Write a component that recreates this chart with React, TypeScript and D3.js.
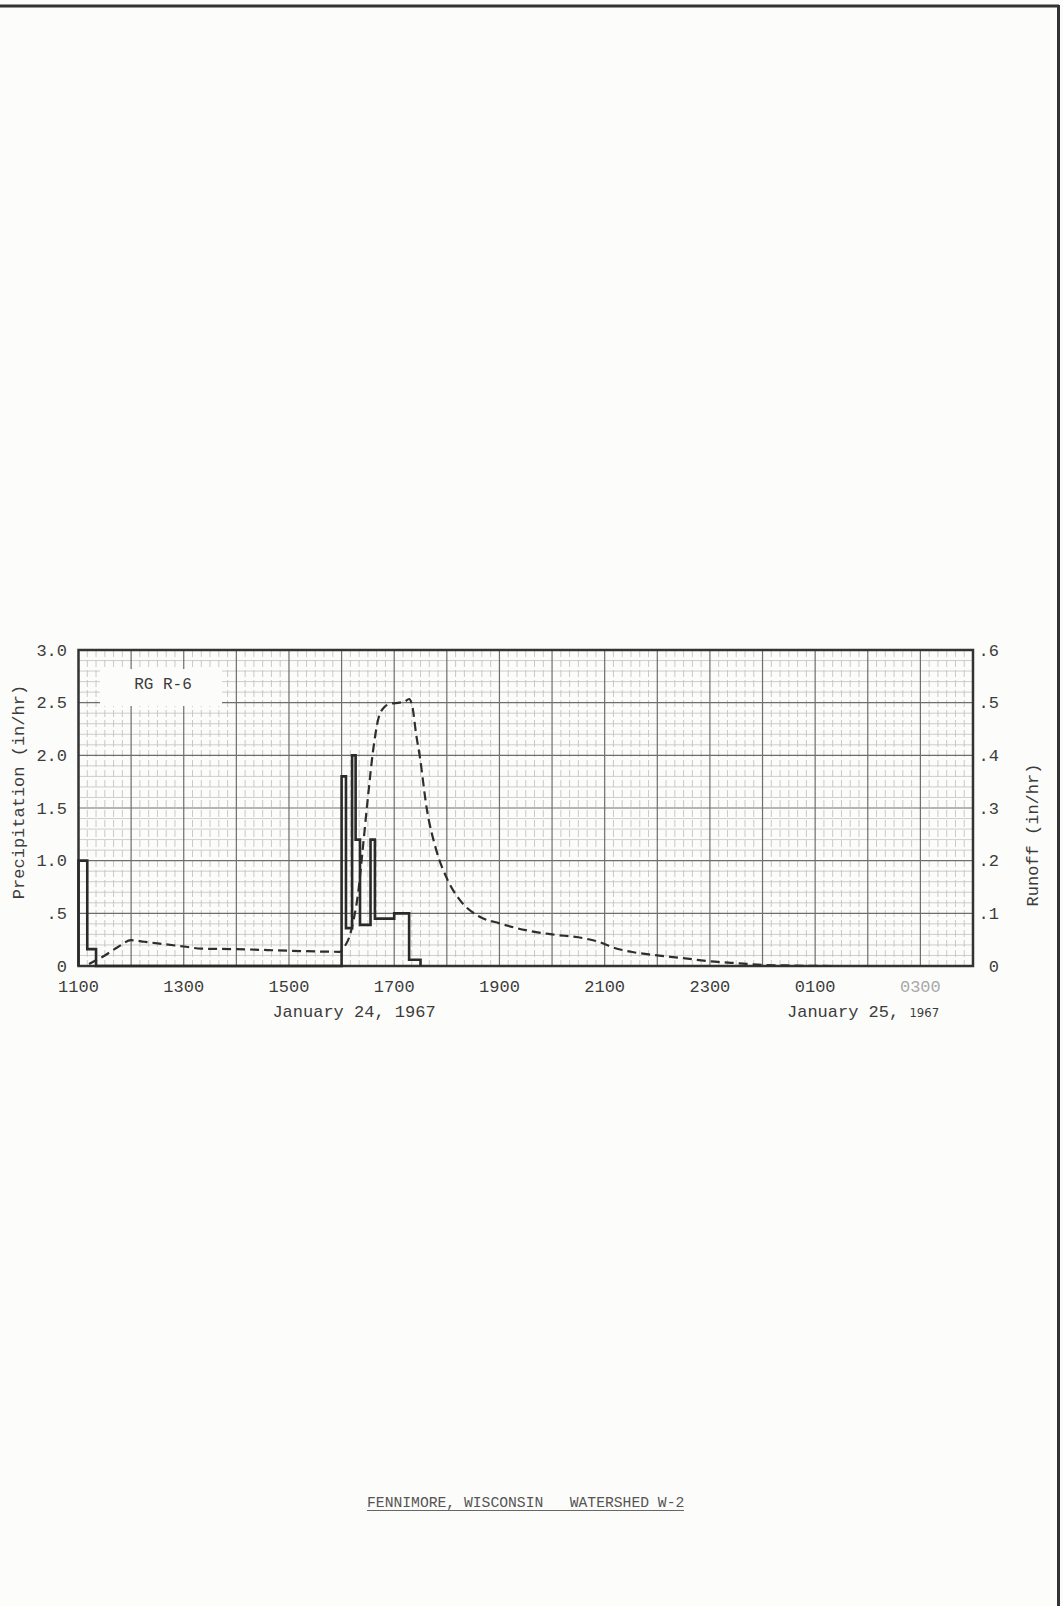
import React from 'react';
import * as d3 from 'd3';

// time axis: minutes after 1100, January 24 1967
const hourLabels = ['1100', '1300', '1500', '1700', '1900', '2100', '2300', '0100', '0300'];
const hourLabelAt = [0, 2, 4, 6, 8, 10, 12, 14, 16];

const precipTickLabels = ['0', '.5', '1.0', '1.5', '2.0', '2.5', '3.0'];
const precipTickValues = [0, 0.5, 1, 1.5, 2, 2.5, 3];
const runoffTickLabels = ['0', '.1', '.2', '.3', '.4', '.5', '.6'];
const runoffTickValues = [0, 0.1, 0.2, 0.3, 0.4, 0.5, 0.6];

// precipitation intensity (step, value holds until next time)
const precipMinutes = [0, 0, 10, 20, 300, 305, 312, 316, 321, 333, 338, 360, 377, 390];
const precipRate = [0, 1.0, 0.16, 0, 1.8, 0.36, 2.0, 1.2, 0.39, 1.2, 0.45, 0.5, 0.06, 0];

// runoff rate
const runoffMinutes = [12, 30, 45, 60, 75, 90, 120, 140, 180, 240, 298, 303, 309, 314, 319, 324, 330, 336, 342, 349, 356, 366, 372, 377, 381, 385, 389, 397, 408, 421, 435, 457, 480, 510, 540, 575, 595, 610, 630, 655, 689, 720, 754, 781, 807, 860];
const runoffRate = [0.004, 0.02, 0.036, 0.049, 0.046, 0.043, 0.037, 0.033, 0.032, 0.029, 0.027, 0.036, 0.056, 0.09, 0.14, 0.22, 0.32, 0.41, 0.47, 0.492, 0.498, 0.5, 0.502, 0.507, 0.49, 0.44, 0.4, 0.3, 0.22, 0.163, 0.125, 0.094, 0.081, 0.068, 0.06, 0.053, 0.045, 0.035, 0.027, 0.021, 0.015, 0.009, 0.005, 0.002, 0.001, 0];

const W = 1063;
const H = 1606;
const left = 78.5, right = 973, top = 650, bottom = 966;
const mono = '"Liberation Mono", "Courier New", monospace';
const ink = '#3c3c3c';

const App = () => {
  const x = d3.scaleLinear().domain([0, 17 * 60]).range([left, right]);
  const yP = d3.scaleLinear().domain([0, 3]).range([bottom, top]);
  const yR = d3.scaleLinear().domain([0, 0.6]).range([bottom, top]);

  const minorX = d3.range(0, 17 * 60 + 1, 10).filter(m => m % 60 !== 0);
  const majorX = d3.range(60, 17 * 60, 60);
  const minorY = d3.range(0, 31).map(d => d / 10).filter((d, i) => i % 5 !== 0);
  const majorY = precipTickValues.slice(1, -1);

  const precipLine = d3.line<number>()
    .x((d, i) => x(precipMinutes[i]))
    .y(d => yP(d))
    .curve(d3.curveStepAfter);

  const runoffLine = d3.line<number>()
    .x((d, i) => x(runoffMinutes[i]))
    .y(d => yR(d))
    .curve(d3.curveMonotoneX);

  return (
    <svg width={W} height={H} style={{ position: 'absolute', left: 0, top: 0, display: 'block' }}>
      <rect x={0} y={0} width={W} height={H} fill="#fcfcfa" />
      {/* page edges */}
      <line x1={0} x2={1059} y1={6} y2={6} stroke="#333" strokeWidth={3} />
      <line x1={1058.5} x2={1058.5} y1={5} y2={H} stroke="#333" strokeWidth={3} />

      {/* graph paper */}
      {minorX.map(m => (
        <line key={'mx' + m} x1={x(m)} x2={x(m)} y1={top} y2={bottom} stroke="#bdbdbd" strokeWidth={0.8} strokeDasharray="7 3" />
      ))}
      {minorY.map(v => (
        <line key={'my' + v} x1={left} x2={right} y1={yP(v)} y2={yP(v)} stroke="#c2c2c2" strokeWidth={0.8} />
      ))}
      {majorX.map(m => (
        <line key={'Mx' + m} x1={x(m)} x2={x(m)} y1={top} y2={bottom} stroke="#6e6e6e" strokeWidth={1.2} />
      ))}
      {majorY.map(v => (
        <line key={'My' + v} x1={left} x2={right} y1={yP(v)} y2={yP(v)} stroke="#6e6e6e" strokeWidth={1.2} />
      ))}

      {/* gauge label */}
      <rect x={100} y={669} width={122} height={37} fill="#fcfcfa" />
      <text x={163} y={689} textAnchor="middle" fontFamily={mono} fontSize={16} fill={ink}>RG R-6</text>

      <rect x={left} y={top} width={right - left} height={bottom - top} fill="none" stroke="#333" strokeWidth={2.5} />

      {/* runoff */}
      <path d={runoffLine(runoffRate) || ''} fill="none" stroke="#2e2e2e" strokeWidth={2.2} strokeDasharray="9 5" />
      {/* precipitation */}
      <path d={precipLine(precipRate) || ''} fill="none" stroke="#2a2a2a" strokeWidth={2.6} />

      {/* left axis */}
      {precipTickValues.map((v, i) => (
        <text key={'pl' + i} x={67} y={yP(v) + 5.5} textAnchor="end" fontFamily={mono} fontSize={17} fill={ink}>{precipTickLabels[i]}</text>
      ))}
      {/* right axis */}
      {runoffTickValues.map((v, i) => (
        <text key={'rl' + i} x={999} y={yR(v) + 5.5} textAnchor="end" fontFamily={mono} fontSize={17} fill={ink}>{runoffTickLabels[i]}</text>
      ))}
      {/* time labels */}
      {hourLabels.map((t, i) => (
        <text key={'xl' + i} x={x(hourLabelAt[i] * 60)} y={992} textAnchor="middle" fontFamily={mono} fontSize={17}
          fill={i === hourLabels.length - 1 ? '#a8a8a8' : ink}>{t}</text>
      ))}

      <text x={354} y={1017} textAnchor="middle" fontFamily={mono} fontSize={17} fill={ink}>January 24, 1967</text>
      <text x={787} y={1017} fontFamily={mono} fontSize={17} fill={ink}>
        January 25, <tspan fontFamily={'"DejaVu Sans Condensed", "Liberation Sans Narrow", sans-serif'} fontSize={13}>1967</tspan>
      </text>

      <text transform="translate(19,792) rotate(-90)" textAnchor="middle" dominantBaseline="central" fontFamily={mono} fontSize={17} fill={ink}>Precipitation (in/hr)</text>
      <text transform="translate(1033,835) rotate(-90)" textAnchor="middle" dominantBaseline="central" fontFamily={mono} fontSize={17} fill={ink}>Runoff (in/hr)</text>

      {/* caption */}
      <text x={367} y={1507} fontFamily={mono} fontSize={14.7} fill="#555" xmlSpace="preserve">FENNIMORE, WISCONSIN   WATERSHED W-2</text>
      <line x1={367} x2={684} y1={1510.5} y2={1510.5} stroke="#666" strokeWidth={1} />
    </svg>
  );
};

export default App;
